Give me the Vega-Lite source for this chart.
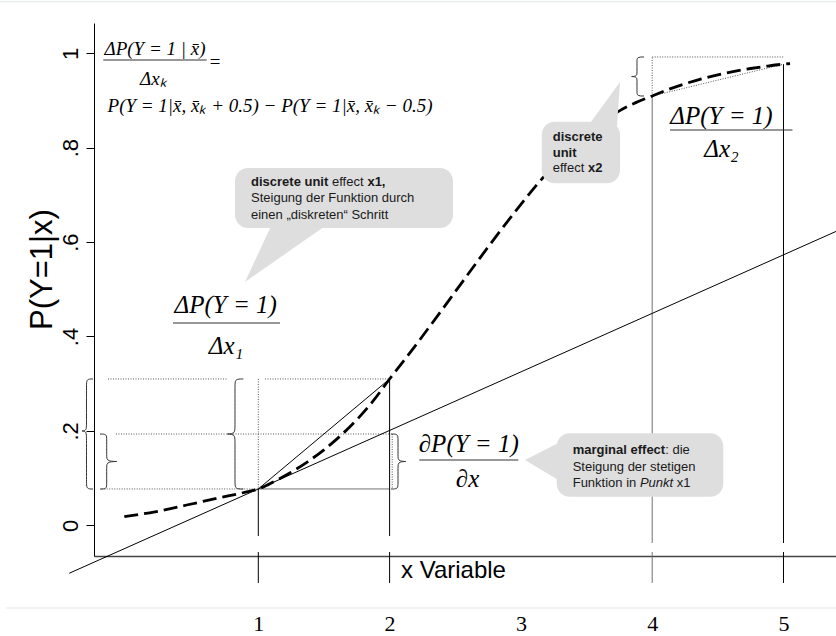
{
  "$schema": "https://vega.github.io/schema/vega-lite/v6.json",
  "width": 742,
  "height": 533,
  "autosize": {"type": "none"},
  "padding": {"left": 94, "top": 23, "right": 0, "bottom": 80},
  "background": "white",
  "config": {"view": {"stroke": null}},
  "datasets": {
    "curve": [
      {"x": -0.0206, "y": 0.0182}, {"x": 0.2133, "y": 0.0286}, {"x": 0.4547, "y": 0.043},
      {"x": 0.7083, "y": 0.0585}, {"x": 0.9117, "y": 0.0708}, {"x": 1.0, "y": 0.077},
      {"x": 1.125, "y": 0.0935}, {"x": 1.25, "y": 0.1125}, {"x": 1.375, "y": 0.1345},
      {"x": 1.5, "y": 0.16}, {"x": 1.625, "y": 0.1895}, {"x": 1.75, "y": 0.2235},
      {"x": 1.875, "y": 0.2635}, {"x": 2.0, "y": 0.31}, {"x": 2.125, "y": 0.3545},
      {"x": 2.25, "y": 0.4005}, {"x": 2.375, "y": 0.4475}, {"x": 2.5, "y": 0.495},
      {"x": 2.625, "y": 0.5425}, {"x": 2.75, "y": 0.5895}, {"x": 2.875, "y": 0.6355},
      {"x": 3.0, "y": 0.68}, {"x": 3.125, "y": 0.7225}, {"x": 3.25, "y": 0.762},
      {"x": 3.375, "y": 0.798}, {"x": 3.5, "y": 0.8295}, {"x": 3.625, "y": 0.8565},
      {"x": 3.75, "y": 0.878}, {"x": 3.875, "y": 0.8955}, {"x": 4.0, "y": 0.9095},
      {"x": 4.125, "y": 0.9235}, {"x": 4.25, "y": 0.9355}, {"x": 4.375, "y": 0.9458},
      {"x": 4.5, "y": 0.9545}, {"x": 4.625, "y": 0.9618}, {"x": 4.75, "y": 0.9678},
      {"x": 4.875, "y": 0.9728}, {"x": 5.0, "y": 0.977}, {"x": 5.05, "y": 0.9782}
    ],
    "dotted": [
      {"x": -0.1447, "y": 0.31, "x2": 0.7593, "y2": 0.31},
      {"x": 1.051, "y": 0.31, "x2": 2.0, "y2": 0.31},
      {"x": -0.0838, "y": 0.1934, "x2": 0.7593, "y2": 0.1934},
      {"x": 0.8073, "y": 0.1934, "x2": 2.0, "y2": 0.1934},
      {"x": -0.1927, "y": 0.077, "x2": 1.0, "y2": 0.077},
      {"x": 1.0, "y": 0.31, "x2": 1.0, "y2": 0.077},
      {"x": 2.02, "y": 0.1934, "x2": 2.02, "y2": 0.077},
      {"x": 4.0, "y": 0.9095, "x2": 4.0, "y2": 0.9922},
      {"x": 4.0, "y": 0.9922, "x2": 5.0, "y2": 0.9922},
      {"x": 4.0, "y": 0.9095, "x2": 5.0, "y2": 0.977}
    ],
    "black": [
      {"x": -0.44, "y": -0.1016, "x2": 5.3998, "y2": 0.6226},
      {"x": 1.0, "y": 0.077, "x2": 2.0, "y2": 0.31},
      {"x": 1.0, "y": 0.077, "x2": 1.0, "y2": -0.0227},
      {"x": 2.0, "y": 0.31, "x2": 2.0, "y2": -0.0227},
      {"x": 5.0, "y": 0.977, "x2": 5.0, "y2": -0.0375},
      {"x": 1.0, "y": -0.0566, "x2": 1.0, "y2": -0.1222},
      {"x": 2.0, "y": -0.0566, "x2": 2.0, "y2": -0.1222},
      {"x": 5.0, "y": -0.0566, "x2": 5.0, "y2": -0.1222}
    ],
    "gray": [
      {"x": 1.0, "y": 0.077, "x2": 2.0, "y2": 0.077},
      {"x": 4.0, "y": 0.9095, "x2": 4.0, "y2": -0.0375},
      {"x": 4.0, "y": -0.0566, "x2": 4.0, "y2": -0.1222}
    ],
    "frame": [
      {"x": -0.9673, "y": 1.1093, "x2": 5.3998, "y2": 1.1093},
      {"x": -0.9216, "y": -0.1752, "x2": 5.3998, "y2": -0.1752}
    ],
    "braces": [
      {"id": 1, "o": 0, "x": -0.259, "y": 0.31}, {"id": 1, "o": 1, "x": -0.3085, "y": 0.31},
      {"id": 1, "o": 2, "x": -0.3085, "y": 0.2973}, {"id": 1, "o": 3, "x": -0.3085, "y": 0.2125},
      {"id": 1, "o": 4, "x": -0.3085, "y": 0.1998}, {"id": 1, "o": 5, "x": -0.3599, "y": 0.1998},
      {"id": 1, "o": 6, "x": -0.3085, "y": 0.1998}, {"id": 1, "o": 7, "x": -0.3085, "y": 0.1871},
      {"id": 1, "o": 8, "x": -0.3085, "y": 0.0896}, {"id": 1, "o": 9, "x": -0.3085, "y": 0.0769},
      {"id": 1, "o": 10, "x": -0.259, "y": 0.0769},
      {"id": 2, "o": 0, "x": -0.2056, "y": 0.1934}, {"id": 2, "o": 1, "x": -0.1546, "y": 0.1934},
      {"id": 2, "o": 2, "x": -0.1546, "y": 0.1828}, {"id": 2, "o": 3, "x": -0.1546, "y": 0.1458},
      {"id": 2, "o": 4, "x": -0.1546, "y": 0.1352}, {"id": 2, "o": 5, "x": -0.0404, "y": 0.1352},
      {"id": 2, "o": 6, "x": -0.1546, "y": 0.1352}, {"id": 2, "o": 7, "x": -0.1546, "y": 0.1246},
      {"id": 2, "o": 8, "x": -0.1546, "y": 0.0875}, {"id": 2, "o": 9, "x": -0.1546, "y": 0.0769},
      {"id": 2, "o": 10, "x": -0.2056, "y": 0.0769},
      {"id": 3, "o": 0, "x": 0.8858, "y": 0.31}, {"id": 3, "o": 1, "x": 0.8225, "y": 0.31},
      {"id": 3, "o": 2, "x": 0.8225, "y": 0.2973}, {"id": 3, "o": 3, "x": 0.8225, "y": 0.2061},
      {"id": 3, "o": 4, "x": 0.8225, "y": 0.1934}, {"id": 3, "o": 5, "x": 0.7346, "y": 0.1934},
      {"id": 3, "o": 6, "x": 0.8225, "y": 0.1934}, {"id": 3, "o": 7, "x": 0.8225, "y": 0.1807},
      {"id": 3, "o": 8, "x": 0.8225, "y": 0.0896}, {"id": 3, "o": 9, "x": 0.8225, "y": 0.0769},
      {"id": 3, "o": 10, "x": 0.8858, "y": 0.0769},
      {"id": 4, "o": 0, "x": 2.0107, "y": 0.1934}, {"id": 4, "o": 1, "x": 2.064, "y": 0.1934},
      {"id": 4, "o": 2, "x": 2.064, "y": 0.1828}, {"id": 4, "o": 3, "x": 2.064, "y": 0.1458},
      {"id": 4, "o": 4, "x": 2.064, "y": 0.1352}, {"id": 4, "o": 5, "x": 2.1554, "y": 0.1352},
      {"id": 4, "o": 6, "x": 2.064, "y": 0.1352}, {"id": 4, "o": 7, "x": 2.064, "y": 0.1246},
      {"id": 4, "o": 8, "x": 2.064, "y": 0.0875}, {"id": 4, "o": 9, "x": 2.064, "y": 0.0769},
      {"id": 4, "o": 10, "x": 2.0107, "y": 0.0769},
      {"id": 5, "o": 0, "x": 3.9375, "y": 0.9922}, {"id": 5, "o": 1, "x": 3.8842, "y": 0.9922},
      {"id": 5, "o": 2, "x": 3.8842, "y": 0.9837}, {"id": 5, "o": 3, "x": 3.8842, "y": 0.9593},
      {"id": 5, "o": 4, "x": 3.8842, "y": 0.9508}, {"id": 5, "o": 5, "x": 3.8237, "y": 0.9508},
      {"id": 5, "o": 6, "x": 3.8842, "y": 0.9508}, {"id": 5, "o": 7, "x": 3.8842, "y": 0.9423},
      {"id": 5, "o": 8, "x": 3.8842, "y": 0.918}, {"id": 5, "o": 9, "x": 3.8842, "y": 0.9095},
      {"id": 5, "o": 10, "x": 3.9375, "y": 0.9095}
    ],
    "boxes": [
      {"x": 0.8225, "x2": 2.4829, "y": 0.757, "y2": 0.6299},
      {"x": 3.1584, "x2": 3.7548, "y": 0.8551, "y2": 0.7246},
      {"x": 3.2727, "x2": 4.5415, "y": 0.1949, "y2": 0.0606}
    ],
    "pointersDown": [
      {"id": 1, "y": 0.6383, "x": 1.1043, "x2": 1.5309},
      {"id": 1, "y": 0.5155, "x": 0.8987, "x2": 0.8987},
      {"id": 2, "y": 0.846, "x": 3.5111, "x2": 3.7319},
      {"id": 2, "y": 0.9392, "x": 3.7548, "x2": 3.7548}
    ],
    "pointersSide": [
      {"id": 3, "x": 3.374, "y": 0.1871, "y2": 0.0811},
      {"id": 3, "x": 3.0312, "y": 0.1383, "y2": 0.1383}
    ],
    "bars": [
      {"x": 0.3503, "x2": 1.1653, "y": 0.4286, "y2": 0.4286},
      {"x": 4.1356, "x2": 5.0685, "y": 0.8375, "y2": 0.8375},
      {"x": 2.2262, "x2": 2.9802, "y": 0.1383, "y2": 0.1383},
      {"x": -0.1805, "x2": 0.607, "y": 0.9858, "y2": 0.9858}
    ],
    "formulaSmall": [
      {"x": 0.2133, "y": 0.9964, "t": "ΔP(Y = 1 | x̄)"},
      {"x": 0.2003, "y": 0.9328, "t": "Δxₖ"},
      {"x": 0.6702, "y": 0.9697, "t": "="},
      {"x": 1.0891, "y": 0.8756, "t": "P(Y = 1|x̄, x̄ₖ + 0.5) − P(Y = 1|x̄, x̄ₖ − 0.5)"}
    ],
    "formulaBig": [
      {"x": 0.7517, "y": 0.4498, "t": "ΔP(Y = 1)"},
      {"x": 0.754, "y": 0.3629, "t": "Δx₁"},
      {"x": 4.5278, "y": 0.8502, "t": "ΔP(Y = 1)"},
      {"x": 4.5278, "y": 0.7803, "t": "Δx₂"},
      {"x": 2.6032, "y": 0.1553, "t": "∂P(Y = 1)"},
      {"x": 2.5933, "y": 0.0811, "t": "∂x"}
    ],
    "noteRegular": [
      {"x": 1.5613, "y": 0.728, "t": "effect"},
      {"x": 0.9444, "y": 0.6934, "t": "Steigung der Funktion durch"},
      {"x": 0.9444, "y": 0.6574, "t": "einen „diskreten“ Schritt"},
      {"x": 3.2422, "y": 0.7564, "t": "effect"},
      {"x": 4.099, "y": 0.1595, "t": ": die"},
      {"x": 3.3945, "y": 0.1242, "t": "Steigung der stetigen"},
      {"x": 3.3945, "y": 0.0903, "t": "Funktion in"},
      {"x": 4.1866, "y": 0.0903, "t": "x1"}
    ],
    "noteBold": [
      {"x": 0.9444, "y": 0.728, "t": "discrete unit"},
      {"x": 1.8309, "y": 0.728, "t": "x1,"},
      {"x": 3.2422, "y": 0.8233, "t": "discrete"},
      {"x": 3.2422, "y": 0.7894, "t": "unit"},
      {"x": 3.5111, "y": 0.7564, "t": "x2"},
      {"x": 3.3945, "y": 0.1595, "t": "marginal effect"}
    ],
    "noteItalic": [
      {"x": 3.9063, "y": 0.0903, "t": "Punkt"}
    ],
    "axisName": [
      {"x": 2.0868, "y": -0.0968, "t": "x Variable"}
    ]
  },
  "encoding": {
    "x": {
      "field": "x",
      "type": "quantitative",
      "scale": {"domain": [-0.25133, 5.39985], "nice": false, "zero": false},
      "axis": {
        "values": [1, 2, 3, 4, 5],
        "format": "d",
        "title": null,
        "grid": false,
        "ticks": false,
        "tickSize": 0,
        "labelPadding": 57,
        "labelFlush": false,
        "labelOverlap": false,
        "labelFont": "Liberation Serif",
        "labelFontSize": 22,
        "labelColor": "#000000",
        "domainColor": "#444444",
        "domainWidth": 1.5
      }
    },
    "y": {
      "field": "y",
      "type": "quantitative",
      "scale": {"domain": [-0.06504, 1.06419], "nice": false, "zero": false},
      "axis": {
        "values": [0, 0.2, 0.4, 0.6, 0.8, 1],
        "labelExpr": "datum.value == 0 ? '0' : datum.value == 1 ? '1' : '.' + round(datum.value * 10)",
        "grid": false,
        "tickSize": 8,
        "tickColor": "#000000",
        "domainColor": "#000000",
        "labelAngle": 270,
        "labelAlign": "center",
        "labelBaseline": "bottom",
        "labelPadding": 4,
        "labelFlush": false,
        "labelFont": "Liberation Sans",
        "labelFontSize": 22,
        "labelColor": "#000000",
        "title": "P(Y=1|x)",
        "titleFont": "Liberation Sans",
        "titleFontSize": 31,
        "titleFontWeight": "normal",
        "titleColor": "#000000",
        "titleAngle": 270,
        "titleAlign": "center",
        "titleBaseline": "middle",
        "titleX": -52,
        "titleY": 246
      }
    }
  },
  "layer": [
    {
      "data": {"name": "frame"},
      "mark": {"type": "rule", "color": "#e2e9ea", "strokeWidth": 1},
      "encoding": {"x2": {"field": "x2"}, "y2": {"field": "y2"}}
    },
    {
      "data": {"name": "dotted"},
      "mark": {"type": "rule", "color": "#555555", "strokeWidth": 1, "strokeDash": [1, 1.5]},
      "encoding": {"x2": {"field": "x2"}, "y2": {"field": "y2"}}
    },
    {
      "data": {"name": "gray"},
      "mark": {"type": "rule", "color": "#707070", "strokeWidth": 1},
      "encoding": {"x2": {"field": "x2"}, "y2": {"field": "y2"}}
    },
    {
      "data": {"name": "black"},
      "mark": {"type": "rule", "color": "#000000", "strokeWidth": 1},
      "encoding": {"x2": {"field": "x2"}, "y2": {"field": "y2"}}
    },
    {
      "data": {"name": "curve"},
      "mark": {"type": "line", "color": "#000000", "strokeWidth": 2.8, "strokeDash": [14, 6], "strokeCap": "butt", "interpolate": "monotone"},
      "encoding": {}
    },
    {
      "data": {"name": "braces"},
      "mark": {"type": "line", "color": "#333333", "strokeWidth": 1, "interpolate": "basis"},
      "encoding": {
        "detail": {"field": "id"},
        "order": {"field": "o", "type": "quantitative"}
      }
    },
    {
      "data": {"name": "boxes"},
      "mark": {"type": "rect", "color": "#dedede", "opacity": 1, "cornerRadius": 13},
      "encoding": {"x2": {"field": "x2"}, "y2": {"field": "y2"}}
    },
    {
      "data": {"name": "pointersDown"},
      "mark": {"type": "area", "orient": "horizontal", "color": "#dedede", "opacity": 1, "fillOpacity": 1},
      "encoding": {"x2": {"field": "x2"}, "detail": {"field": "id"}}
    },
    {
      "data": {"name": "pointersSide"},
      "mark": {"type": "area", "orient": "vertical", "color": "#dedede", "opacity": 1, "fillOpacity": 1},
      "encoding": {"y2": {"field": "y2"}, "detail": {"field": "id"}}
    },
    {
      "data": {"name": "bars"},
      "mark": {"type": "rule", "color": "#333333", "strokeWidth": 1.2},
      "encoding": {"x2": {"field": "x2"}, "y2": {"field": "y2"}}
    },
    {
      "data": {"name": "formulaSmall"},
      "mark": {"type": "text", "font": "Liberation Serif", "fontStyle": "italic", "fontSize": 19, "align": "center", "baseline": "alphabetic", "color": "#000000"},
      "encoding": {"text": {"field": "t"}}
    },
    {
      "data": {"name": "formulaBig"},
      "mark": {"type": "text", "font": "Liberation Serif", "fontStyle": "italic", "fontSize": 25, "align": "center", "baseline": "alphabetic", "color": "#000000"},
      "encoding": {"text": {"field": "t"}}
    },
    {
      "data": {"name": "noteRegular"},
      "mark": {"type": "text", "font": "Liberation Sans", "fontSize": 13, "align": "left", "baseline": "middle", "color": "#1a1a1a"},
      "encoding": {"text": {"field": "t"}}
    },
    {
      "data": {"name": "noteBold"},
      "mark": {"type": "text", "font": "Liberation Sans", "fontWeight": "bold", "fontSize": 13, "align": "left", "baseline": "middle", "color": "#1a1a1a"},
      "encoding": {"text": {"field": "t"}}
    },
    {
      "data": {"name": "noteItalic"},
      "mark": {"type": "text", "font": "Liberation Sans", "fontStyle": "italic", "fontSize": 13, "align": "left", "baseline": "middle", "color": "#1a1a1a"},
      "encoding": {"text": {"field": "t"}}
    },
    {
      "data": {"name": "axisName"},
      "mark": {"type": "text", "font": "Liberation Sans", "fontSize": 24, "align": "left", "baseline": "middle", "color": "#000000"},
      "encoding": {"text": {"field": "t"}}
    }
  ]
}
